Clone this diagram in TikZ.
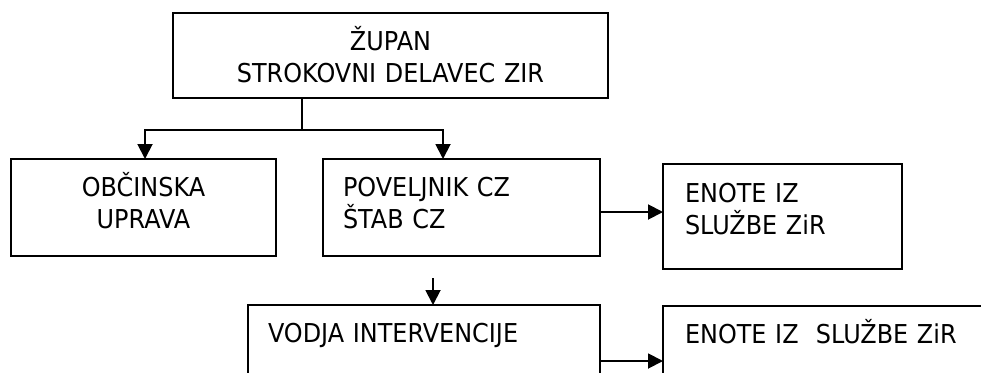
\documentclass[tikz,border=0pt]{standalone}
\usepackage{fontspec}
\setmainfont{DejaVu Sans}[FakeStretch=0.92]
\usetikzlibrary{arrows.meta}
\begin{document}
\begin{tikzpicture}[x=1pt,y=-1pt,
  box/.style={draw, line width=1.9pt, outer sep=0pt, inner ysep=0pt,
    font=\fontsize{26}{32}\selectfont, anchor=north west},
  cbox/.style={box, inner xsep=0pt, align=center},
  lbox/.style={box, align=left},
  arr/.style={line width=1.9pt, -{Triangle[length=15pt,width=15pt]}},
  ln/.style={line width=1.9pt}]
\clip (0,0) rectangle (981,372);
\fill[white] (0,0) rectangle (981,372);
% boxes
\node[cbox, text width=435pt, text height=37pt, text depth=48pt] (zupan) at (173,13)
  {ŽUPAN\\STROKOVNI DELAVEC ZIR};
\node[cbox, text width=265pt, text height=37pt, text depth=60pt] (obcina) at (11,159)
  {OBČINSKA\\UPRAVA};
\node[lbox, inner xsep=20pt, text width=237pt, text height=37pt, text depth=60pt] (povelj) at (323,159)
  {POVELJNIK CZ\\ŠTAB CZ};
\node[lbox, inner xsep=22pt, text width=195pt, text height=38pt, text depth=67pt] (enote1) at (663,164)
  {ENOTE IZ\\SLUŽBE ZiR};
\node[lbox, inner xsep=20pt, text width=312pt, text height=37pt, text depth=58pt] (vodja) at (248,305)
  {VODJA INTERVENCIJE};
\node[lbox, inner xsep=22pt, text width=296pt, text height=37pt, text depth=57pt] (enote2) at (663,306)
  {ENOTE IZ\ \ SLUŽBE ZiR};
% connectors
\coordinate (split) at (302,130);
\draw[ln] (zupan.south -| split) -- (split);
\coordinate (a1) at ([xshift=1.5pt]obcina.north);
\coordinate (a2) at ([xshift=120pt]povelj.north west);
\draw[arr] (split) -| (a1);
\draw[arr] (split) -| (a2);
\coordinate (p1) at ([yshift=-4.5pt]povelj.east);
\draw[arr] (p1) -- (p1 -| enote1.west);
\coordinate (p2) at ([yshift=-56pt]vodja.north east);
\draw[arr] (p2) -- (p2 -| enote2.west);
\coordinate (q) at (433,278);
\draw[arr] (q) -- (q |- vodja.north);
\end{tikzpicture}
\end{document}
